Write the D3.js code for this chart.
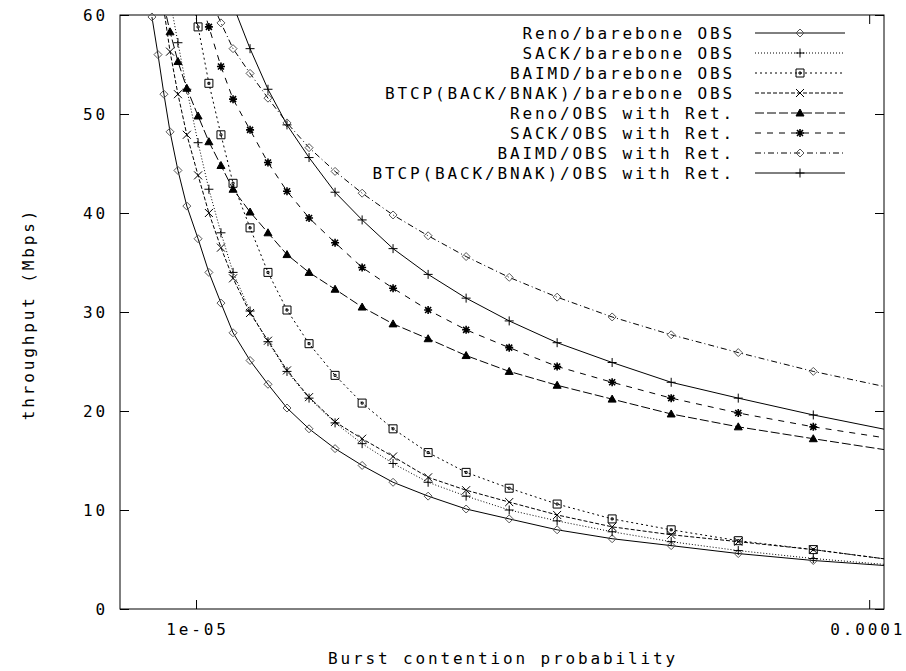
<!DOCTYPE html>
<html>
<head>
<meta charset="utf-8">
<script src="https://cdn.jsdelivr.net/npm/d3@7"></script>
<style>
  body { margin: 0; background: #fff; }
  svg { display: block; }
</style>
</head>
<body>
<div class="chart"></div>
<script>
// burst contention probability (shared by every curve)
const probs = [8.60e-6, 8.78e-6, 8.96e-6, 9.15e-6, 9.40e-6, 9.69e-6, 1.007e-5, 1.045e-5,
  1.089e-5, 1.135e-5, 1.203e-5, 1.279e-5, 1.365e-5, 1.472e-5, 1.609e-5, 1.765e-5,
  1.962e-5, 2.212e-5, 2.519e-5, 2.919e-5, 3.439e-5, 4.151e-5, 5.08e-5, 6.39e-5, 8.26e-5, 1.10e-4]

// throughput (Mbps)
const renoBare = [59.8, 56.0, 52.0, 48.2, 44.3, 40.7, 37.4, 34.0, 30.9, 27.9, 25.1, 22.7, 20.3,
  18.2, 16.2, 14.5, 12.8, 11.4, 10.1, 9.1, 8.0, 7.1, 6.4, 5.6, 4.9, 4.3]
const sackBare = [72.0, 68.5, 65.0, 61.5, 57.2, 52.5, 47.1, 42.4, 38.0, 34.0, 30.1, 27.0, 24.0,
  21.3, 18.8, 16.7, 14.7, 12.8, 11.4, 10.0, 8.9, 7.8, 6.8, 5.9, 5.1, 4.4]
const baimdBare = [85.0, 80.0, 76.0, 72.0, 68.0, 64.0, 58.8, 53.1, 47.9, 43.0, 38.5, 34.0, 30.2,
  26.8, 23.6, 20.8, 18.2, 15.8, 13.8, 12.2, 10.6, 9.1, 8.0, 6.9, 6.0, 4.9]
const btcpBare = [69.0, 65.0, 60.5, 56.3, 52.0, 47.9, 43.8, 40.0, 36.5, 33.4, 29.9, 27.1, 24.1,
  21.4, 18.9, 17.2, 15.4, 13.3, 12.0, 10.8, 9.5, 8.3, 7.5, 6.8, 6.0, 4.9]
const renoRet = [67.0, 64.0, 61.0, 58.3, 55.3, 52.6, 49.8, 47.2, 44.8, 42.4, 40.1, 38.0, 35.8,
  34.0, 32.3, 30.5, 28.8, 27.3, 25.6, 24.0, 22.6, 21.2, 19.7, 18.4, 17.2, 15.9]
const sackRet = [78.0, 76.0, 74.0, 72.0, 69.0, 66.0, 62.5, 58.8, 54.8, 51.5, 48.4, 45.1, 42.2,
  39.5, 37.0, 34.5, 32.4, 30.2, 28.2, 26.4, 24.5, 22.9, 21.3, 19.8, 18.4, 17.1]
const baimdRet = [77.0, 75.0, 73.0, 71.0, 69.0, 67.0, 64.5, 62.0, 59.2, 56.6, 54.1, 51.6, 49.1,
  46.6, 44.2, 42.0, 39.8, 37.7, 35.6, 33.5, 31.5, 29.5, 27.7, 25.9, 24.0, 22.2]
const btcpRet = [84.0, 82.0, 80.0, 78.0, 76.0, 73.0, 70.0, 67.0, 64.0, 61.0, 56.6, 52.5, 48.9,
  45.6, 42.1, 39.3, 36.4, 33.8, 31.4, 29.1, 26.9, 24.9, 22.9, 21.3, 19.6, 17.9]

const seriesNames = ["Reno/barebone OBS", "SACK/barebone OBS", "BAIMD/barebone OBS",
  "BTCP(BACK/BNAK)/barebone OBS", "Reno/OBS with Ret.", "SACK/OBS with Ret.",
  "BAIMD/OBS with Ret.", "BTCP(BACK/BNAK)/OBS with Ret."]
const seriesValues = [renoBare, sackBare, baimdBare, btcpBare, renoRet, sackRet, baimdRet, btcpRet]

const xTicks = [1e-5, 1e-4]
const xTickLabels = ["1e-05", "0.0001"]
const yTicks = [0, 10, 20, 30, 40, 50, 60]

// gnuplot-ish line and point styles
const dashes = [null, "1,2", "2,3", "4,2", "9,3", "6,6", "6,3,1,3", null]
const marks = ["diamond", "plus", "box", "times", "triangle", "star", "diamond", "plus"]

const markPaths = {
  diamond: "M0,-4L4,0L0,4L-4,0Z",
  plus: "M-4.5,0H4.5M0,-4.5V4.5",
  box: "M-4,-4H4V4H-4ZM-1,-1H1V1H-1Z",
  times: "M-4,-4L4,4M-4,4L4,-4",
  triangle: "M0,-4L4,3H-4Z",
  star: "M-4,0H4M0,-4V4M-3,-3L3,3M-3,3L3,-3"
}

const font = "'DejaVu Sans Mono', monospace"
const W = 906, H = 671
const plotL = 120, plotR = 884, plotT = 15, plotB = 609

const x = d3.scaleLog().domain([7.71e-6, 1.052e-4]).range([plotL, plotR])
const y = d3.scaleLinear().domain([0, 60]).range([plotB, plotT])

const svg = d3.select("div.chart").append("svg")
  .attr("width", W)
  .attr("height", H)

svg.append("defs").append("clipPath")
  .attr("id", "plotArea")
  .append("rect")
  .attr("x", plotL).attr("y", plotT)
  .attr("width", plotR - plotL).attr("height", plotB - plotT)

function styleText(sel) {
  sel.attr("font-family", font)
    .attr("font-size", 16)
    .attr("letter-spacing", "2.87px")
    .attr("fill", "#000")
}

// axes, ticks pointing inward, mirrored on the opposite side
const yAxis = svg.append("g")
  .attr("transform", `translate(${plotL},0)`)
  .call(d3.axisLeft(y).tickValues(yTicks).tickSize(-9).tickPadding(12))
const xAxis = svg.append("g")
  .attr("transform", `translate(0,${plotB})`)
  .call(d3.axisBottom(x).tickValues(xTicks).tickFormat((d, i) => xTickLabels[i]).tickSize(-9).tickPadding(15))
svg.append("g")
  .attr("transform", `translate(${plotR},0)`)
  .call(d3.axisRight(y).tickValues(yTicks).tickSize(-9).tickFormat(""))
svg.append("g")
  .attr("transform", `translate(0,${plotT})`)
  .call(d3.axisTop(x).tickValues(xTicks).tickSize(-9).tickFormat(""))

svg.selectAll(".domain").remove()
svg.selectAll(".tick line").attr("stroke", "#000")
yAxis.selectAll("text").call(styleText)
xAxis.selectAll("text").call(styleText).attr("dx", (d, i) => i === xTicks.length - 1 ? -2 : 1)

svg.append("rect")
  .attr("x", plotL).attr("y", plotT)
  .attr("width", plotR - plotL).attr("height", plotB - plotT)
  .attr("fill", "none")
  .attr("stroke", "#000")

// axis titles
svg.append("text")
  .attr("x", 503).attr("y", 664)
  .attr("text-anchor", "middle")
  .text("Burst contention probability")
  .call(styleText)

svg.append("text")
  .attr("transform", "translate(34,314) rotate(-90)")
  .attr("text-anchor", "middle")
  .text("throughput (Mbps)")
  .call(styleText)

// curves
const line = d3.line()
  .x(d => x(d[0]))
  .y(d => y(d[1]))

const plot = svg.append("g").attr("clip-path", "url(#plotArea)")

function drawMark(sel, kind) {
  sel.append("path")
    .attr("d", markPaths[kind])
    .attr("fill", kind === "triangle" ? "#000" : "none")
    .attr("stroke", kind === "diamond" ? "#555" : "#000")
    .attr("stroke-width", kind === "star" ? 1.6 : 1)
}

seriesValues.forEach((vals, i) => {
  const pts = probs.map((p, j) => [p, vals[j]])
  plot.append("path")
    .datum(pts)
    .attr("d", line)
    .attr("fill", "none")
    .attr("stroke", "#000")
    .attr("stroke-width", 1)
    .attr("stroke-dasharray", dashes[i])

  const shown = pts.filter(d => d[1] <= 60.3 && d[0] <= x.domain()[1])
  svg.append("g").selectAll("g")
    .data(shown)
    .enter().append("g")
    .attr("transform", d => `translate(${x(d[0])},${y(d[1])})`)
    .each(function () { drawMark(d3.select(this), marks[i]) })
})

// legend
const legend = svg.append("g")
seriesNames.forEach((name, i) => {
  const ly = 33 + i * 20
  legend.append("text")
    .attr("x", 735).attr("y", ly + 6)
    .attr("text-anchor", "end")
    .text(name)
    .call(styleText)
  legend.append("line")
    .attr("x1", 755).attr("x2", 845)
    .attr("y1", ly).attr("y2", ly)
    .attr("stroke", "#000")
    .attr("stroke-dasharray", dashes[i])
  legend.append("g")
    .attr("transform", `translate(800,${ly})`)
    .call(g => drawMark(g, marks[i]))
})
</script>
</body>
</html>
